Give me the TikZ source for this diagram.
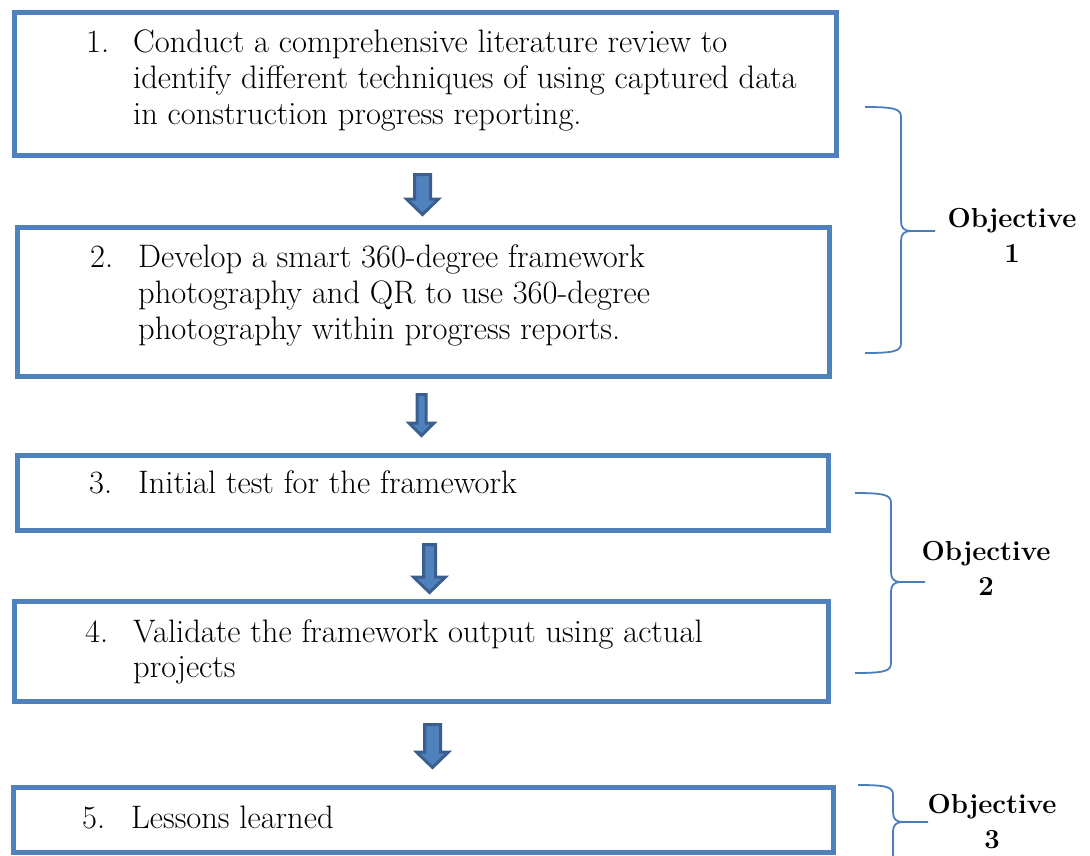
\documentclass[tikz,border=0pt]{standalone}
\usepackage{fontspec}
\definecolor{boxblue}{HTML}{4F81BD}
\definecolor{arrowdark}{HTML}{3A5F8E}
\definecolor{bracecol}{HTML}{4A7EBB}
\newcommand\myblockarrow[6]{%
  \draw[arrowst] (#1-#3/2,#2) -- (#1+#3/2,#2) -- (#1+#3/2,#5) -- (#1+#4/2,#5) -- (#1,#6) -- (#1-#4/2,#5) -- (#1-#3/2,#5) -- cycle;}
\newcommand\mybracket[6]{%
  \draw[bracest] (#1,#4) .. controls (#2-6,#4) and (#2,#4+2) .. (#2,#4+10) -- (#2,#5-10)
     .. controls (#2,#5-3) and (#2+3,#5) .. (#2+10,#5) -- (#3,#5);
  \draw[bracest] (#2+10,#5) .. controls (#2+3,#5) and (#2,#5+3) .. (#2,#5+10) -- (#2,#6-10)
     .. controls (#2,#6-2) and (#2-6,#6) .. (#1,#6);}
\begin{document}
\begin{tikzpicture}[x=1pt,y=-1pt,
  boxst/.style={draw=boxblue, line width=5pt, inner sep=0pt, outer sep=0pt},
  arrowst/.style={fill=boxblue, draw=arrowdark, line width=3pt, line join=miter},
  bracest/.style={draw=bracecol, line width=1.8pt},
  txt/.style={anchor=base west, inner sep=0pt, font=\fontsize{32.5}{36}\selectfont},
  obj/.style={anchor=base, inner sep=0pt, font=\fontsize{27.5}{34}\selectfont\bfseries}]
\useasboundingbox (0,0) rectangle (1090,855);
\clip (0,0) rectangle (1090,855);
% boxes
\node[boxst, minimum width=821.5pt, minimum height=143.5pt] (b1) at (425.25,83.75) {};
\node[boxst, minimum width=811.5pt, minimum height=149pt] (b2) at (423.25,301.5) {};
\node[boxst, minimum width=810.5pt, minimum height=74.5pt] (b3) at (422.75,492.75) {};
\node[boxst, minimum width=813.5pt, minimum height=100pt] (b4) at (421.25,651) {};
\node[boxst, minimum width=820pt, minimum height=65pt] (b5) at (423,820) {};
% texts
\node[txt] (n1) at (86,52) {1.};
\node[txt] (t1a) at (133,52) {Conduct a comprehensive literature review to};
\node[txt] (t1b) at (133,88) {identify different techniques of using captured data};
\node[txt] (t1c) at (133,124) {in construction progress reporting.};
\node[txt] (n2) at (90,267) {2.};
\node[txt] (t2a) at (138,267) {Develop a smart 360-degree framework};
\node[txt] (t2b) at (138,303) {photography and QR to use 360-degree};
\node[txt] (t2c) at (138,339) {photography within progress reports.};
\node[txt] (n3) at (89,493) {3.};
\node[txt] (t3a) at (138,493) {Initial test for the framework};
\node[txt] (n4) at (85,642) {4.};
\node[txt] (t4a) at (133,642) {Validate the framework output using actual};
\node[txt] (t4b) at (133,677) {projects};
\node[txt] (n5) at (82,828) {5.};
\node[txt] (t5a) at (131,828) {Lessons learned};
% arrows
\myblockarrow{422.5}{174.5}{16}{32}{199}{214.5}
\myblockarrow{421.5}{394.5}{9}{25}{423}{435.5}
\myblockarrow{429.5}{544.5}{12}{32}{577}{592.5}
\myblockarrow{432.5}{724.5}{16}{32}{752}{767.5}
% braces
\mybracket{865}{901}{935}{107}{231}{353}
\mybracket{855}{891}{925}{493}{582}{673}
\mybracket{858}{893}{928}{785}{822}{880}
% objective labels
\node[obj] (o1a) at (1012,227) {Objective};
\node[obj] (o1b) at (1012,262) {1};
\node[obj] (o2a) at (986,560) {Objective};
\node[obj] (o2b) at (986,595) {2};
\node[obj] (o3a) at (992,813) {Objective};
\node[obj] (o3b) at (992,848) {3};
\end{tikzpicture}
\end{document}
